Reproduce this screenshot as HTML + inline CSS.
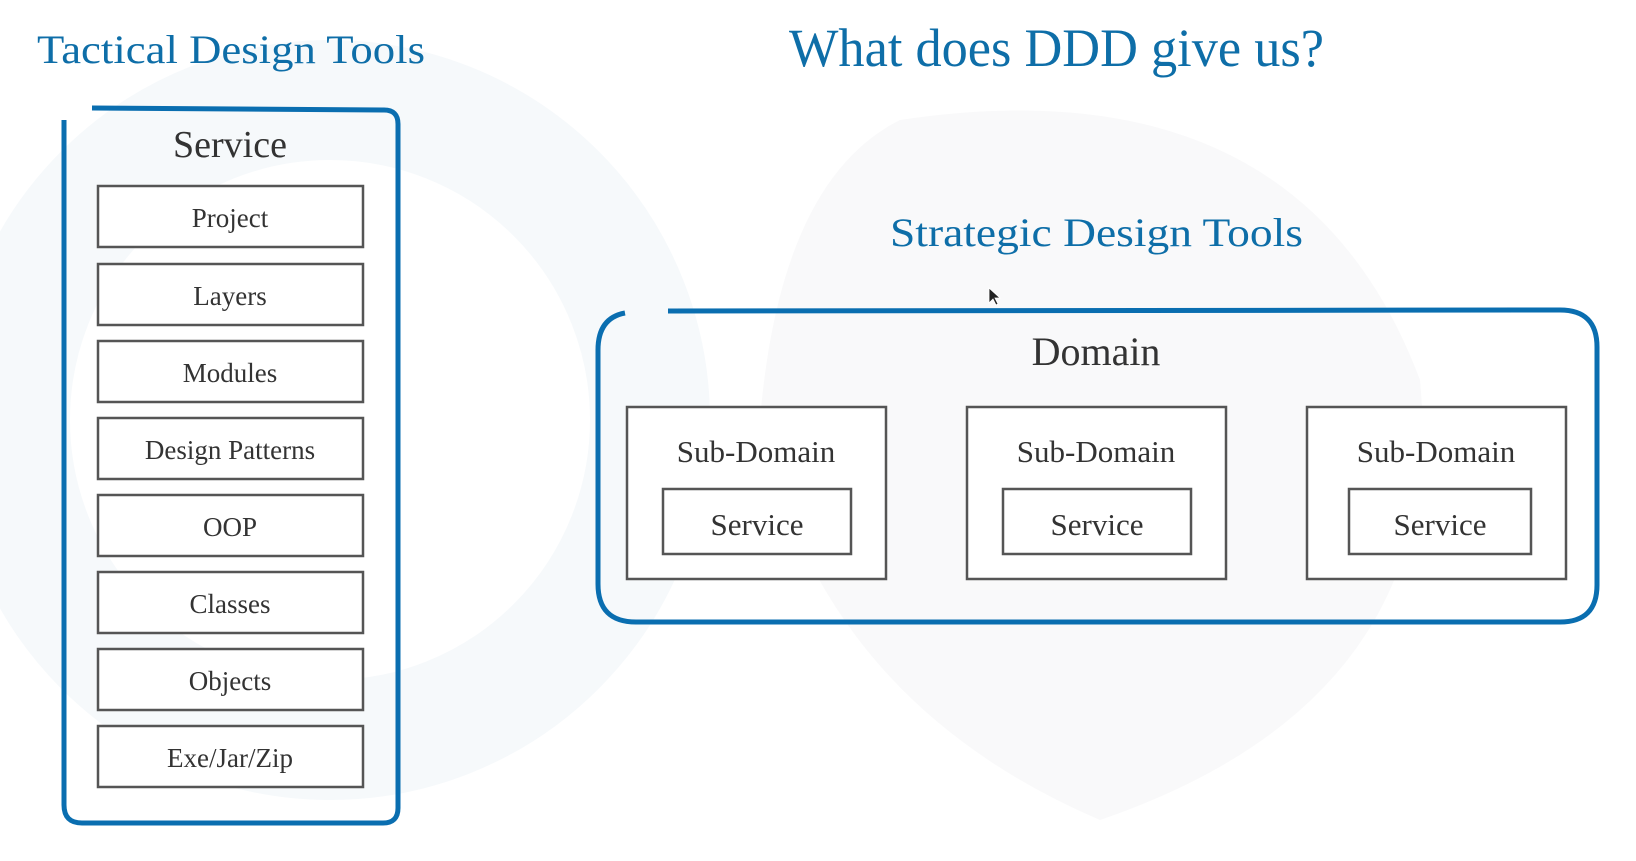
<!DOCTYPE html>
<html><head><meta charset="utf-8"><style>
html,body{margin:0;padding:0;background:#fff;width:1636px;height:861px;overflow:hidden}
svg{display:block}
</style></head><body>
<svg width="1636" height="861" viewBox="0 0 1636 861" xmlns="http://www.w3.org/2000/svg" font-family="'Liberation Serif',serif">
<rect width="1636" height="861" fill="#ffffff"/>
<circle cx="330" cy="420" r="320" fill="none" stroke="#f6f9fb" stroke-width="120"/>
<path d="M900 120 Q1300 60 1420 380 Q1450 700 1100 820 Q820 700 760 420 Q780 180 900 120Z" fill="#f9f9fa"/>
<text x="37" y="63" font-size="40" fill="#0e6ea8" textLength="388" lengthAdjust="spacingAndGlyphs">Tactical Design Tools</text>
<text x="789" y="66" font-size="54" fill="#0e6ea8" textLength="535" lengthAdjust="spacingAndGlyphs">What does DDD give us?</text>
<text x="890" y="246" font-size="40" fill="#0e6ea8" textLength="413" lengthAdjust="spacingAndGlyphs">Strategic Design Tools</text>
<path d="M64 120 L64 805 Q64 823 82 823 L383 823 Q398 823 398 808 L398 124 Q398 110 384 110 L92 108" fill="none" stroke="#0a6eb0" stroke-width="5"/>
<text x="230" y="157" font-size="38" fill="#333" text-anchor="middle">Service</text>
<g fill="#fff" stroke="#555" stroke-width="2.5">
<rect x="98" y="186" width="265" height="61"/>
<rect x="98" y="264" width="265" height="61"/>
<rect x="98" y="341" width="265" height="61"/>
<rect x="98" y="418" width="265" height="61"/>
<rect x="98" y="495" width="265" height="61"/>
<rect x="98" y="572" width="265" height="61"/>
<rect x="98" y="649" width="265" height="61"/>
<rect x="98" y="726" width="265" height="61"/>
</g>
<g font-size="27" fill="#333" text-anchor="middle">
<text x="230" y="227">Project</text>
<text x="230" y="305">Layers</text>
<text x="230" y="382">Modules</text>
<text x="230" y="459">Design Patterns</text>
<text x="230" y="536">OOP</text>
<text x="230" y="613">Classes</text>
<text x="230" y="690">Objects</text>
<text x="230" y="767">Exe/Jar/Zip</text>
</g>
<path d="M668 311 L1560 310 Q1597 310 1597 347 L1597 585 Q1597 622 1560 622 L636 622 Q598 622 598 584 L598 350 Q598 318 625 313" fill="none" stroke="#0a6eb0" stroke-width="5"/>
<text x="1096" y="365" font-size="40" fill="#333" text-anchor="middle">Domain</text>
<g fill="#fff" stroke="#555" stroke-width="2.5">
<rect x="627" y="407" width="259" height="172"/>
<rect x="967" y="407" width="259" height="172"/>
<rect x="1307" y="407" width="259" height="172"/>
<rect x="663" y="489" width="188" height="65"/>
<rect x="1003" y="489" width="188" height="65"/>
<rect x="1349" y="489" width="182" height="65"/>
</g>
<g font-size="31" fill="#333" text-anchor="middle">
<text x="756" y="462">Sub-Domain</text>
<text x="1096" y="462">Sub-Domain</text>
<text x="1436" y="462">Sub-Domain</text>
<text x="757" y="535">Service</text>
<text x="1097" y="535">Service</text>
<text x="1440" y="535">Service</text>
</g>
<path d="M989 288 L989 303 L993 299 L996 305 L998 304 L995 298 L1000 298 Z" fill="#222" stroke="#fff" stroke-width="0.8"/>
</svg>
</body></html>
